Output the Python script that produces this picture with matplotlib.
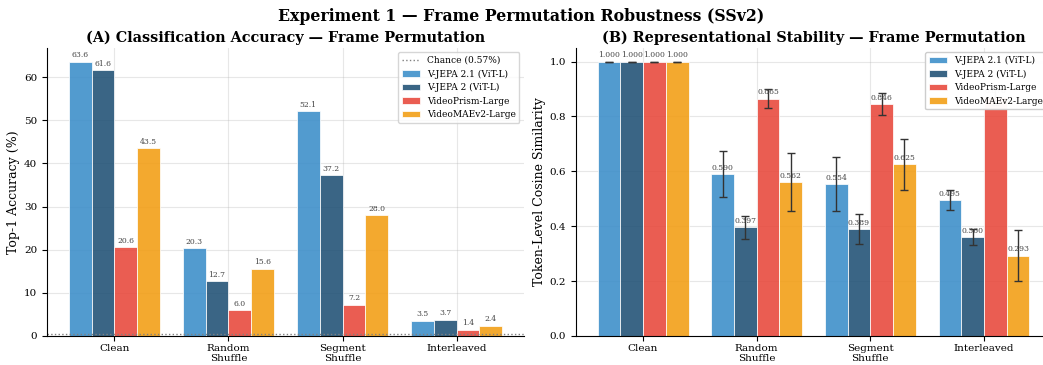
import numpy as np
import matplotlib.pyplot as plt

conditions = ["Clean", "Random\nShuffle", "Segment\nShuffle", "Interleaved"]
models = ["V-JEPA 2.1 (ViT-L)", "V-JEPA 2 (ViT-L)", "VideoPrism-Large", "VideoMAEv2-Large"]
colors = ["#3a8dc9", "#1f5074", "#e8473a", "#f29d12"]

# top-1 accuracy (%) per model, per condition
acc_vjepa21 = [63.6, 20.3, 52.1, 3.5]
acc_vjepa2 = [61.6, 12.7, 37.2, 3.7]
acc_prism = [20.6, 6.0, 7.2, 1.4]
acc_mae = [43.5, 15.6, 28.0, 2.4]
chance = 0.57

# token-level cosine similarity (mean, std)
sim_vjepa21 = [1.000, 0.590, 0.554, 0.495]
sim_vjepa2 = [1.000, 0.397, 0.389, 0.360]
sim_prism = [1.000, 0.865, 0.846, 0.870]
sim_mae = [1.000, 0.562, 0.625, 0.293]
err_vjepa21 = [0.0, 0.084, 0.097, 0.036]
err_vjepa2 = [0.0, 0.042, 0.055, 0.029]
err_prism = [0.0, 0.036, 0.040, 0.030]
err_mae = [0.0, 0.105, 0.094, 0.092]

plt.rcParams['font.family'] = 'DejaVu Serif'
plt.rcParams['font.size'] = 8

fig = plt.figure(figsize=(10.43, 3.65), dpi=100)
# panel B runs slightly past the right edge, like the reference crop
ax1 = fig.add_axes([47 / 1043, 0.0795, 477 / 1043, 0.7895])
ax2 = fig.add_axes([576 / 1043, 0.0795, 475 / 1043, 0.7895])
x = np.arange(len(conditions))
w = 0.2

# (A) accuracy
accs = [acc_vjepa21, acc_vjepa2, acc_prism, acc_mae]
ax1.axhline(chance, color="gray", ls=":", lw=1, label=f"Chance ({chance}%)")
for i, vals in enumerate(accs):
    bars = ax1.bar(x + (i - 1.5) * w, vals, w, color=colors[i], alpha=0.88,
                   edgecolor="white", linewidth=0.6, label=models[i])
    for b, v in zip(bars, vals):
        ax1.text(b.get_x() + b.get_width() / 2, v + 0.6, f"{v:.1f}",
                 ha="center", va="bottom", fontsize=5.5, color="#444444")
ax1.set_ylabel("Top-1 Accuracy (%)", fontsize=9, labelpad=3)
ax1.set_title("(A) Classification Accuracy — Frame Permutation", fontsize=10.4, fontweight="bold", pad=4)
ax1.legend(loc="upper right", fontsize=6.5)

# (B) representational stability
sims = [sim_vjepa21, sim_vjepa2, sim_prism, sim_mae]
errs = [err_vjepa21, err_vjepa2, err_prism, err_mae]
for i, (vals, e) in enumerate(zip(sims, errs)):
    bars = ax2.bar(x + (i - 1.5) * w, vals, w, yerr=e, capsize=3, color=colors[i], alpha=0.88,
                   edgecolor="white", linewidth=0.6, label=models[i],
                   error_kw=dict(ecolor="#333333", elinewidth=1, capthick=1))
    for b, v in zip(bars, vals):
        ax2.text(b.get_x() + b.get_width() / 2, v + 0.008, f"{v:.3f}",
                 ha="center", va="bottom", fontsize=5.5, color="#444444")
ax2.set_ylabel("Token-Level Cosine Similarity", fontsize=9, labelpad=3)
ax2.set_title("(B) Representational Stability — Frame Permutation", fontsize=10.4, fontweight="bold", pad=4)
ax2.legend(loc="upper right", fontsize=6.5, framealpha=0.97)

for ax in (ax1, ax2):
    ax.set_xticks(x)
    ax.set_xticklabels(conditions)
    ax.tick_params(axis="x", pad=2, labelsize=7.5)
    ax.tick_params(axis="y", labelsize=7.5)
    ax.grid(True, alpha=0.3)
    ax.set_axisbelow(True)
    ax.spines["top"].set_visible(False)
    ax.spines["right"].set_visible(False)

fig.suptitle("Experiment 1 — Frame Permutation Robustness (SSv2)", fontsize=11.3, fontweight="bold", y=0.978)
fig.savefig("out.png")
